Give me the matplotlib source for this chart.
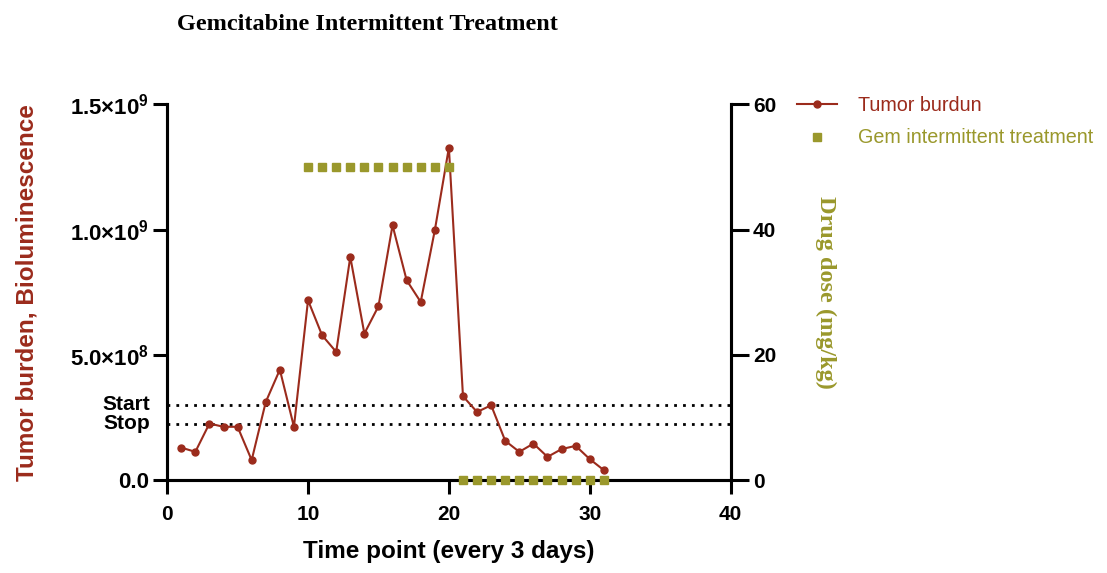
import numpy as np
import matplotlib
matplotlib.use('Agg')
import matplotlib.pyplot as plt
from matplotlib.ticker import FixedLocator

plt.rcParams['font.family'] = ['Liberation Sans', 'DejaVu Sans']
plt.rcParams['mathtext.fontset'] = 'custom'
plt.rcParams['mathtext.rm'] = 'Liberation Sans:bold'
plt.rcParams['mathtext.bf'] = 'Liberation Sans:bold'

# data
time_pts = list(range(1, 32))
tumor = [0.130e9, 0.113e9, 0.226e9, 0.213e9, 0.213e9, 0.080e9, 0.312e9, 0.441e9, 0.213e9,
         0.718e9, 0.578e9, 0.512e9, 0.891e9, 0.585e9, 0.694e9, 1.017e9, 0.798e9, 0.711e9,
         0.997e9, 1.327e9, 0.335e9, 0.272e9, 0.299e9, 0.157e9, 0.113e9, 0.146e9, 0.093e9,
         0.124e9, 0.137e9, 0.084e9, 0.040e9]
dose_x = list(range(10, 32))
dose = [50] * 11 + [0] * 11
start_level = 3.0e8
stop_level = 2.25e8
y_ticks = [0, 5e8, 1e9, 1.5e9]
y_tick_labels = ['0.0', r'5.0×10$^{8}$', r'1.0×10$^{9}$', r'1.5×10$^{9}$']

red = '#9B2B1C'
olive = '#9A982C'

fig = plt.figure(figsize=(11.07, 5.73), dpi=100)
ax = fig.add_axes([0.151, 0.162, 0.509, 0.656])
ax2 = ax.twinx()

ax.axhline(start_level, color='black', linestyle=(0, (1, 2.2)), linewidth=2)
ax.axhline(stop_level, color='black', linestyle=(0, (1, 2.2)), linewidth=2)
l1, = ax.plot(time_pts, tumor, '-o', color=red, linewidth=1.5, markersize=5, label='Tumor burdun', zorder=3)
l2, = ax2.plot(dose_x, dose, 's', color=olive, markersize=5.8, linestyle='none',
               label='Gem intermittent treatment', clip_on=False, zorder=4)

ax.set_xlim(0, 40)
ax.set_ylim(0, 1.5e9)
ax2.set_ylim(0, 60)
ax.xaxis.set_major_locator(FixedLocator([0, 10, 20, 30, 40]))
ax.set_yticks(y_ticks)
ax.set_yticklabels(y_tick_labels)
ax2.set_yticks([0, 20, 40, 60])

for a in (ax, ax2):
    a.spines['top'].set_visible(False)
    for s in ('left', 'right', 'bottom'):
        a.spines[s].set_linewidth(2.2)
    a.tick_params(width=2.2, length=10, labelsize=15, pad=3)
    for lab in a.get_xticklabels() + a.get_yticklabels():
        lab.set_fontweight('bold')
ax2.tick_params(length=13)
ax.tick_params(axis='x', pad=8)
ax.tick_params(axis='y', labelsize=16)

ax.set_xlabel('Time point (every 3 days)', fontsize=17.5, fontweight='bold', va='center')
ax.xaxis.set_label_coords(0.5, -0.191)
ax.set_ylabel('Tumor burden, Bioluminescence', fontsize=17.5, fontweight='bold', color=red, va='center')
ax.yaxis.set_label_coords(-0.249, 0.5)
ax2.set_ylabel('Drug dose (mg/kg)', fontsize=17.5, fontweight='bold', color=olive, rotation=270,
               va='center', family='Liberation Serif')
ax2.yaxis.set_label_coords(1.168, 0.5)

ax.text(-0.03, start_level, 'Start', transform=ax.get_yaxis_transform(), ha='right', va='center',
        fontsize=15, fontweight='bold')
ax.text(-0.03, stop_level, 'Stop', transform=ax.get_yaxis_transform(), ha='right', va='center',
        fontsize=15, fontweight='bold')

fig.text(0.332, 0.957, 'Gemcitabine Intermittent Treatment', ha='center', va='center',
         fontsize=17.5, fontweight='bold', family='Liberation Serif')

leg = fig.legend(handles=[l1, l2], loc='upper left', bbox_to_anchor=(0.704, 0.864), frameon=False,
                 fontsize=14.2, handlelength=2.0, labelspacing=0.7, handletextpad=1.1)
for txt, c in zip(leg.get_texts(), [red, olive]):
    txt.set_color(c)

fig.savefig('out.png', dpi=100)
